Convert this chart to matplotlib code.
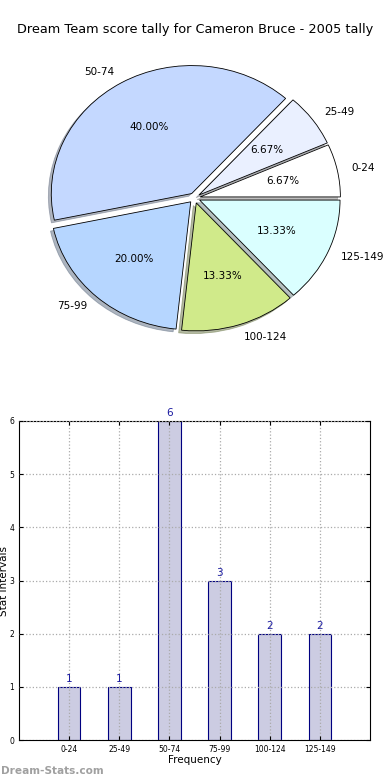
import numpy as np
import matplotlib
matplotlib.use('Agg')
import matplotlib.pyplot as plt

# score intervals and how many games fell in each
intervals = ['0-24', '25-49', '50-74', '75-99', '100-124', '125-149']
counts = [1, 1, 6, 3, 2, 2]
pie_colors = ['#ffffff', '#eaf0ff', '#c4d8ff', '#b6d6ff', '#d0ea8a', '#daffff']
title = 'Dream Team score tally for Cameron Bruce - 2005 tally'

fig = plt.figure(figsize=(3.9, 7.8), dpi=100)

# pie chart (not aspect-equal, like the old matplotlib output)
ax1 = fig.add_axes([19 / 390, 1 - 358 / 780, 351 / 390, 320 / 780])
wedges, texts, autotexts = ax1.pie(
    counts, labels=intervals, colors=pie_colors, autopct='%1.2f%%',
    explode=[0.04] * len(counts),
    shadow={'ox': -0.015, 'oy': -0.015, 'shade': 0.5},
    startangle=0,
    wedgeprops={'edgecolor': 'black', 'linewidth': 0.6},
    textprops={'fontsize': 7.5})
ax1.set_aspect('auto')
ax1.set_xlim(-1.25, 1.25)
ax1.set_ylim(-1.25, 1.25)
fig.text(0.5, 1 - 30 / 780, title, ha='center', va='center', fontsize=9.3)

# bar chart
ax2 = fig.add_axes([19 / 390, 40 / 780, 351 / 390, 319 / 780])
x = np.arange(len(intervals))
bars = ax2.bar(x, counts, width=0.45, color='#cccce2', edgecolor='#000080',
               linewidth=0.8)
for xi, c in zip(x, counts):
    ax2.text(xi, c + 0.05, str(c), ha='center', va='bottom', fontsize=7.5,
             color='#1a1aa0')
ax2.set_xlim(-1, 6)
ax2.set_ylim(0, 6)
ax2.set_xticks(x)
ax2.set_xticklabels(intervals)
ax2.set_yticks(range(7))
ax2.tick_params(labelsize=5.5, direction='in', length=3, top=True, right=True)
ax2.grid(True, linestyle=':', color='#aaaaaa', linewidth=0.9)
ax2.set_axisbelow(False)
ax2.set_xlabel('Frequency', fontsize=7.5, labelpad=1)
ax2.set_ylabel('Stat Intervals', fontsize=7.5, labelpad=0.5)

fig.text(0.002, 1 - 771 / 780, 'Dream-Stats.com', ha='left', va='center',
         fontsize=7.6, color='#a0a0a0', fontweight='semibold')

fig.savefig('out.png', dpi=100)
